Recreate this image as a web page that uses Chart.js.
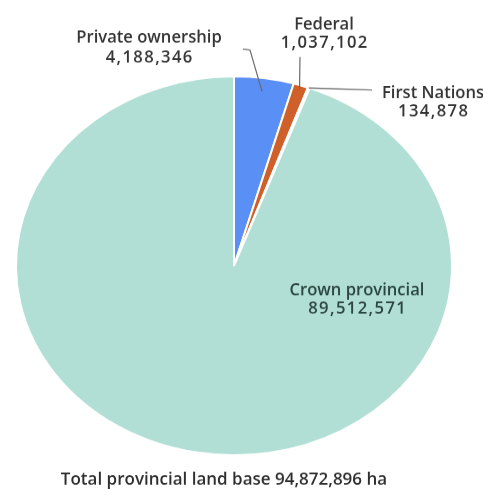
<!DOCTYPE html>
<html>
<head>
  <title>Provincial land base</title>
  <style>
    body {
      margin: 0;
      padding: 0;
      background-color: #fff;
    }
    .page {
      width: 483px;
      height: 489px;
      overflow: hidden;
      position: relative;
    }
    /* pie in the original is a slightly flattened ellipse */
    .squash {
      transform-origin: 0 0;
      transform: scaleY(0.8686);
    }
    canvas {
      display: block;
    }
  </style>
</head>
<body>

<div class="page">
  <div class="squash">
    <canvas id="landChart" width="483" height="563"></canvas>
  </div>
</div>

<script src="https://cdn.jsdelivr.net/npm/chart.js"></script>
<script>
  // data
  const categories = ['Private ownership', 'Federal', 'First Nations', 'Crown provincial'];
  const areas = [4188346, 1037102, 134878, 89512571];
  const colors = ['#5a8ff5', '#d0602a', '#3aa98a', '#b1dfd5'];
  const totalLabel = 'Total provincial land base 94,872,896 ha';

  const squash = 0.8686;

  function fmt(n) {
    return n.toLocaleString('en-US');
  }

  // draws labels + leader lines, undoing the vertical squash so text is not flattened
  const labelPlugin = {
    id: 'labels',
    afterDraw(chart) {
      const ctx = chart.ctx;
      const arcs = chart.getDatasetMeta(0).data;

      // page coordinates of a point on a slice
      function at(i, frac) {
        const a = arcs[i];
        const ang = (a.startAngle + a.endAngle) / 2;
        const r = a.outerRadius * frac;
        return [a.x + r * Math.cos(ang), (a.y + r * Math.sin(ang)) * squash];
      }

      ctx.save();
      ctx.scale(1, 1 / squash);

      // leader lines
      ctx.strokeStyle = '#6b6b6b';
      ctx.lineWidth = 1.2;
      let p = at(0, 0.93);
      ctx.beginPath();
      ctx.moveTo(243, 49);
      ctx.lineTo(250, 50);
      ctx.lineTo(p[0], p[1]);
      ctx.stroke();

      p = at(1, 0.98);
      ctx.beginPath();
      ctx.moveTo(300, 57);
      ctx.lineTo(p[0], p[1]);
      ctx.stroke();

      p = at(2, 1.0);
      ctx.beginPath();
      ctx.moveTo(372, 90);
      ctx.lineTo(p[0], p[1]);
      ctx.stroke();

      // text
      ctx.textAlign = 'center';
      ctx.textBaseline = 'middle';
      const spots = [
        [149, 38, 58],
        [324, 25, 43],
        [433, 93, 112],
        [357, 291, 309]
      ];
      categories.forEach((c, i) => {
        ctx.fillStyle = i === 3 ? '#2c4641' : '#353535';
        ctx.font = '600 16.6px "Open Sans"';
        ctx.letterSpacing = '0px';
        ctx.fillText(c, spots[i][0], spots[i][1]);
        ctx.letterSpacing = '1.4px';
        ctx.fillText(fmt(areas[i]), spots[i][0] + 0.7, spots[i][2]);
      });

      ctx.letterSpacing = '0px';
      ctx.font = '600 17px "Open Sans"';
      ctx.fillStyle = '#2e2e2e';
      ctx.fillText(totalLabel, 224, 480);
      ctx.restore();
    }
  };

  new Chart(document.getElementById('landChart'), {
    type: 'pie',
    data: {
      labels: categories,
      datasets: [{
        data: areas,
        backgroundColor: colors,
        borderColor: '#ffffff',
        borderWidth: 2
      }]
    },
    options: {
      responsive: false,
      animation: false,
      devicePixelRatio: 1,
      layout: {
        padding: { left: 15, right: 30, top: 87, bottom: 38 }
      },
      plugins: {
        legend: { display: false },
        tooltip: { enabled: false }
      },
      events: []
    },
    plugins: [labelPlugin]
  });
</script>

</body>
</html>
